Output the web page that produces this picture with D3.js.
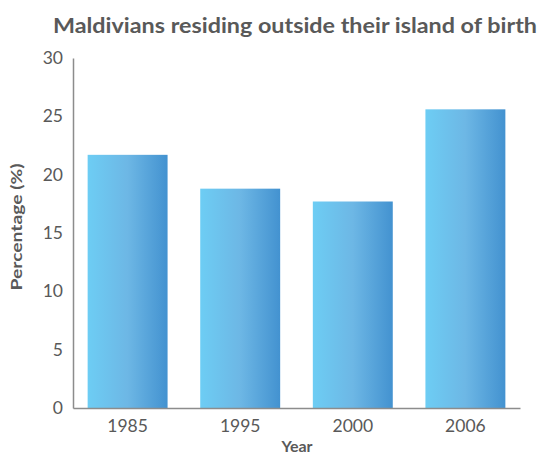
<!DOCTYPE html>
<html>
<head>
<meta charset="utf-8">
<script src="https://cdn.jsdelivr.net/npm/d3@7"></script>
<style>
  html, body { margin: 0; padding: 0; background: #fff; }
  svg { display: block; }
</style>
</head>
<body>
<svg id="chart" width="543" height="457"></svg>
<script>
// Share of Maldivians living away from their island of birth, by census year
const years = ["1985", "1995", "2000", "2006"];
const percentages = [21.7, 18.8, 17.7, 25.6];
const yTicks = [0, 5, 10, 15, 20, 25, 30];

const svg = d3.select("#chart");
const margin = { left: 73, right: 23, top: 58, bottom: 49 };
const W = 543, H = 457;

const x = d3.scaleBand()
  .domain(years)
  .range([margin.left, W - margin.right])
  .paddingInner(0.29)
  .paddingOuter(0.13);

const y = d3.scaleLinear()
  .domain([0, 30])
  .range([H - margin.bottom, margin.top]);

// Horizontal gradient used to fill each bar
const defs = svg.append("defs");
const grad = defs.append("linearGradient")
  .attr("id", "barFill")
  .attr("x1", "0%").attr("x2", "100%")
  .attr("y1", "0%").attr("y2", "0%");
grad.append("stop").attr("offset", "0%").attr("stop-color", "#6dcdf4");
grad.append("stop").attr("offset", "50%").attr("stop-color", "#6db7e5");
grad.append("stop").attr("offset", "100%").attr("stop-color", "#4392d0");

svg.selectAll("rect.bar")
  .data(years.map((yr, i) => ({ yr, v: percentages[i] })))
  .join("rect")
  .attr("class", "bar")
  .attr("x", d => x(d.yr))
  .attr("width", x.bandwidth())
  .attr("y", d => y(d.v))
  .attr("height", d => y(0) - y(d.v))
  .attr("fill", "url(#barFill)");

const fontFamily = "Lato, 'Open Sans', 'Liberation Sans', sans-serif";
const textColor = "#595959";

// Y axis
const yAxis = svg.append("g")
  .attr("transform", `translate(${margin.left},0)`)
  .call(d3.axisLeft(y).tickValues(yTicks).tickSize(0).tickPadding(10));
yAxis.select(".domain").attr("stroke", "#8c8c8c").attr("stroke-width", 1.5);
yAxis.selectAll("text")
  .attr("font-family", fontFamily)
  .attr("font-size", 17.5)
  .attr("fill", textColor);

// X axis
const xAxis = svg.append("g")
  .attr("transform", `translate(0,${y(0)})`)
  .call(d3.axisBottom(x).tickSize(0).tickPadding(12));
xAxis.select(".domain").attr("stroke", "#8c8c8c").attr("stroke-width", 1.5);
xAxis.selectAll("text")
  .attr("font-family", fontFamily)
  .attr("font-size", 17.5)
  .attr("fill", textColor);

// Title
svg.append("text")
  .attr("x", 53)
  .attr("y", 33)
  .attr("font-family", fontFamily)
  .attr("font-weight", "bold")
  .attr("font-size", 20.5)
  .attr("fill", "#595959")
  .attr("textLength", 484)
  .attr("lengthAdjust", "spacingAndGlyphs")
  .text("Maldivians residing outside their island of birth");

// Axis titles
svg.append("text")
  .attr("x", 297)
  .attr("y", 452)
  .attr("text-anchor", "middle")
  .attr("font-family", fontFamily)
  .attr("font-weight", "bold")
  .attr("font-size", 16)
  .attr("fill", textColor)
  .text("Year");

svg.append("text")
  .attr("transform", "translate(22,227) rotate(-90)")
  .attr("text-anchor", "middle")
  .attr("font-family", fontFamily)
  .attr("font-weight", "bold")
  .attr("font-size", 15.5)
  .attr("fill", textColor)
  .attr("textLength", 127)
  .attr("lengthAdjust", "spacingAndGlyphs")
  .text("Percentage (%)");
</script>
</body>
</html>
